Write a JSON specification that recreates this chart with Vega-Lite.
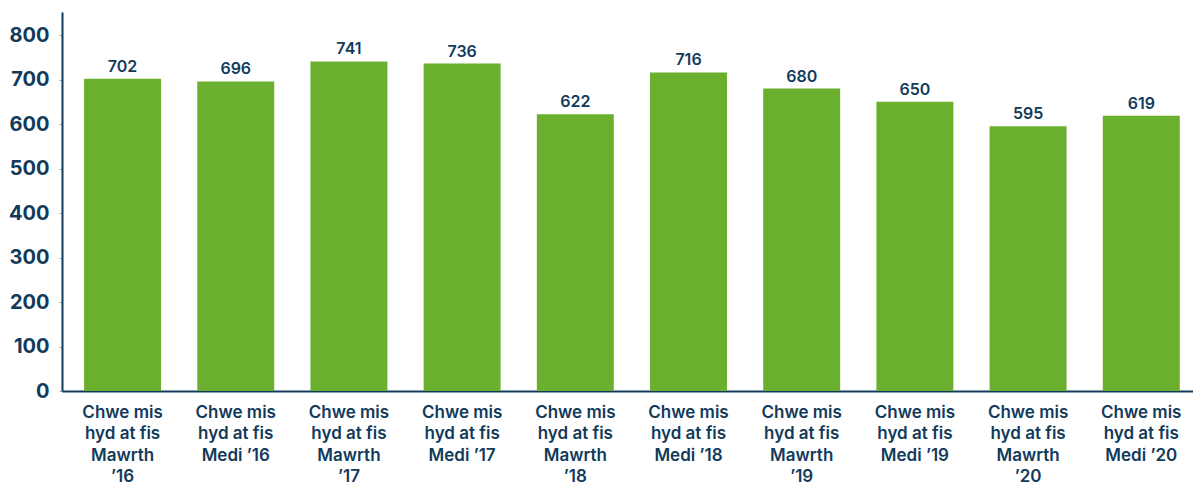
{
  "$schema": "https://vega.github.io/schema/vega-lite/v6.json",
  "description": "Six-month figures to March and September, 2016 to 2020.",
  "background": "#ffffff",
  "autosize": {"type": "none"},
  "padding": {"left": 62, "top": 12, "right": 0, "bottom": 94},
  "width": 1131,
  "height": 379,
  "data": {
    "values": [
      {"period": "Chwe mis|hyd at fis|Mawrth|’16", "value": 702},
      {"period": "Chwe mis|hyd at fis|Medi ’16", "value": 696},
      {"period": "Chwe mis|hyd at fis|Mawrth|’17", "value": 741},
      {"period": "Chwe mis|hyd at fis|Medi ’17", "value": 736},
      {"period": "Chwe mis|hyd at fis|Mawrth|’18", "value": 622},
      {"period": "Chwe mis|hyd at fis|Medi ’18", "value": 716},
      {"period": "Chwe mis|hyd at fis|Mawrth|’19", "value": 680},
      {"period": "Chwe mis|hyd at fis|Medi ’19", "value": 650},
      {"period": "Chwe mis|hyd at fis|Mawrth|’20", "value": 595},
      {"period": "Chwe mis|hyd at fis|Medi ’20", "value": 619}
    ]
  },
  "encoding": {
    "x": {
      "field": "period",
      "type": "nominal",
      "sort": null,
      "title": null,
      "scale": {"paddingInner": 0.32, "paddingOuter": 0.156, "align": 0.625},
      "axis": {
        "labelAngle": 0,
        "labelExpr": "split(datum.label, '|')",
        "labelFont": "Inter",
        "labelFontSize": 17,
        "labelFontWeight": 600,
        "labelColor": "#123a5a",
        "labelLineHeight": 21.5,
        "labelPadding": 13,
        "labelLimit": 200,
        "ticks": false,
        "domainColor": "#123a5a",
        "domainWidth": 2
      }
    },
    "y": {
      "field": "value",
      "type": "quantitative",
      "title": null,
      "scale": {"domain": [0, 852], "nice": false},
      "axis": {
        "values": [0, 100, 200, 300, 400, 500, 600, 700, 800],
        "grid": false,
        "labelFont": "Inter",
        "labelFontSize": 20,
        "labelFontWeight": 700,
        "labelColor": "#123a5a",
        "labelPadding": 10,
        "tickSize": 3,
        "tickColor": "#9aa9b6",
        "domainColor": "#123a5a",
        "domainWidth": 2
      }
    }
  },
  "layer": [
    {"mark": {"type": "bar", "color": "#6ab02e"}},
    {
      "mark": {
        "type": "text",
        "baseline": "bottom",
        "dy": -4,
        "font": "Inter",
        "fontSize": 16,
        "fontWeight": 600,
        "color": "#123a5a"
      },
      "encoding": {"text": {"field": "value", "type": "quantitative"}}
    }
  ],
  "config": {"view": {"stroke": null}}
}
